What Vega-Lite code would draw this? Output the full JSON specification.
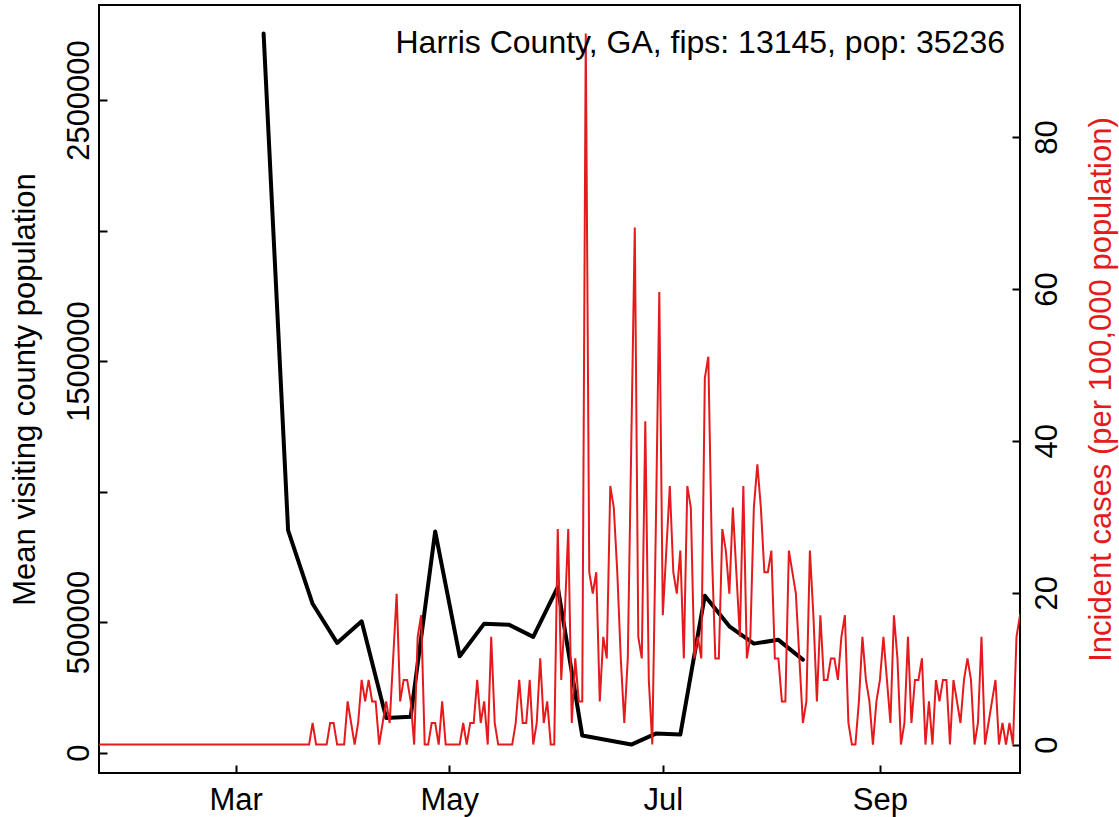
{
  "$schema": "https://vega.github.io/schema/vega-lite/v6.json",
  "width": 921,
  "height": 768,
  "autosize": "none",
  "padding": {"left": 99, "top": 5, "right": 99, "bottom": 44},
  "background": "white",
  "title": {
    "text": "Harris County, GA, fips: 13145, pop: 35236",
    "anchor": "end", "frame": "group", "orient": "top",
    "offset": -80, "baseline": "alphabetic", "dx": -15,
    "fontSize": 32, "fontWeight": "normal", "font": "Liberation Sans", "color": "black"
  },
  "datasets": {
    "visits": [
      {"date": "2020-03-09", "visitors": 2755000},
      {"date": "2020-03-16", "visitors": 851000},
      {"date": "2020-03-23", "visitors": 570000},
      {"date": "2020-03-30", "visitors": 420000},
      {"date": "2020-04-06", "visitors": 502700},
      {"date": "2020-04-13", "visitors": 132800},
      {"date": "2020-04-20", "visitors": 136700},
      {"date": "2020-04-27", "visitors": 847000},
      {"date": "2020-05-04", "visitors": 368700},
      {"date": "2020-05-11", "visitors": 493900},
      {"date": "2020-05-18", "visitors": 490000},
      {"date": "2020-05-25", "visitors": 443000},
      {"date": "2020-06-01", "visitors": 633600},
      {"date": "2020-06-08", "visitors": 65100},
      {"date": "2020-06-22", "visitors": 30600},
      {"date": "2020-06-29", "visitors": 72700},
      {"date": "2020-07-06", "visitors": 68900},
      {"date": "2020-07-13", "visitors": 601000},
      {"date": "2020-07-20", "visitors": 483500},
      {"date": "2020-07-27", "visitors": 417300},
      {"date": "2020-08-03", "visitors": 431800},
      {"date": "2020-08-10", "visitors": 356000}
    ],
    "cases": [
      {"date": "2020-01-22", "incidence": 0}, {"date": "2020-01-23", "incidence": 0}, {"date": "2020-01-24", "incidence": 0}, {"date": "2020-01-25", "incidence": 0}, {"date": "2020-01-26", "incidence": 0}, {"date": "2020-01-27", "incidence": 0}, {"date": "2020-01-28", "incidence": 0}, {"date": "2020-01-29", "incidence": 0}, {"date": "2020-01-30", "incidence": 0}, {"date": "2020-01-31", "incidence": 0},
      {"date": "2020-02-01", "incidence": 0}, {"date": "2020-02-02", "incidence": 0}, {"date": "2020-02-03", "incidence": 0}, {"date": "2020-02-04", "incidence": 0}, {"date": "2020-02-05", "incidence": 0}, {"date": "2020-02-06", "incidence": 0}, {"date": "2020-02-07", "incidence": 0}, {"date": "2020-02-08", "incidence": 0}, {"date": "2020-02-09", "incidence": 0}, {"date": "2020-02-10", "incidence": 0},
      {"date": "2020-02-11", "incidence": 0}, {"date": "2020-02-12", "incidence": 0}, {"date": "2020-02-13", "incidence": 0}, {"date": "2020-02-14", "incidence": 0}, {"date": "2020-02-15", "incidence": 0}, {"date": "2020-02-16", "incidence": 0}, {"date": "2020-02-17", "incidence": 0}, {"date": "2020-02-18", "incidence": 0}, {"date": "2020-02-19", "incidence": 0}, {"date": "2020-02-20", "incidence": 0},
      {"date": "2020-02-21", "incidence": 0}, {"date": "2020-02-22", "incidence": 0}, {"date": "2020-02-23", "incidence": 0}, {"date": "2020-02-24", "incidence": 0}, {"date": "2020-02-25", "incidence": 0}, {"date": "2020-02-26", "incidence": 0}, {"date": "2020-02-27", "incidence": 0}, {"date": "2020-02-28", "incidence": 0}, {"date": "2020-02-29", "incidence": 0},
      {"date": "2020-03-01", "incidence": 0}, {"date": "2020-03-02", "incidence": 0}, {"date": "2020-03-03", "incidence": 0}, {"date": "2020-03-04", "incidence": 0}, {"date": "2020-03-05", "incidence": 0}, {"date": "2020-03-06", "incidence": 0}, {"date": "2020-03-07", "incidence": 0}, {"date": "2020-03-08", "incidence": 0}, {"date": "2020-03-09", "incidence": 0}, {"date": "2020-03-10", "incidence": 0},
      {"date": "2020-03-11", "incidence": 0}, {"date": "2020-03-12", "incidence": 0}, {"date": "2020-03-13", "incidence": 0}, {"date": "2020-03-14", "incidence": 0}, {"date": "2020-03-15", "incidence": 0}, {"date": "2020-03-16", "incidence": 0}, {"date": "2020-03-17", "incidence": 0}, {"date": "2020-03-18", "incidence": 0}, {"date": "2020-03-19", "incidence": 0}, {"date": "2020-03-20", "incidence": 0},
      {"date": "2020-03-21", "incidence": 0}, {"date": "2020-03-22", "incidence": 0}, {"date": "2020-03-23", "incidence": 2.84}, {"date": "2020-03-24", "incidence": 0}, {"date": "2020-03-25", "incidence": 0}, {"date": "2020-03-26", "incidence": 0}, {"date": "2020-03-27", "incidence": 0}, {"date": "2020-03-28", "incidence": 2.84}, {"date": "2020-03-29", "incidence": 2.84}, {"date": "2020-03-30", "incidence": 0},
      {"date": "2020-03-31", "incidence": 0},
      {"date": "2020-04-01", "incidence": 0}, {"date": "2020-04-02", "incidence": 5.68}, {"date": "2020-04-03", "incidence": 2.84}, {"date": "2020-04-04", "incidence": 0}, {"date": "2020-04-05", "incidence": 2.84}, {"date": "2020-04-06", "incidence": 8.51}, {"date": "2020-04-07", "incidence": 5.68}, {"date": "2020-04-08", "incidence": 8.51}, {"date": "2020-04-09", "incidence": 5.68}, {"date": "2020-04-10", "incidence": 5.68},
      {"date": "2020-04-11", "incidence": 0}, {"date": "2020-04-12", "incidence": 2.84}, {"date": "2020-04-13", "incidence": 5.68}, {"date": "2020-04-14", "incidence": 2.84}, {"date": "2020-04-15", "incidence": 11.35}, {"date": "2020-04-16", "incidence": 19.87}, {"date": "2020-04-17", "incidence": 5.68}, {"date": "2020-04-18", "incidence": 8.51}, {"date": "2020-04-19", "incidence": 8.51}, {"date": "2020-04-20", "incidence": 5.68},
      {"date": "2020-04-21", "incidence": 0}, {"date": "2020-04-22", "incidence": 14.19}, {"date": "2020-04-23", "incidence": 17.03}, {"date": "2020-04-24", "incidence": 0}, {"date": "2020-04-25", "incidence": 0}, {"date": "2020-04-26", "incidence": 2.84}, {"date": "2020-04-27", "incidence": 2.84}, {"date": "2020-04-28", "incidence": 0}, {"date": "2020-04-29", "incidence": 5.68}, {"date": "2020-04-30", "incidence": 0},
      {"date": "2020-05-01", "incidence": 0}, {"date": "2020-05-02", "incidence": 0}, {"date": "2020-05-03", "incidence": 0}, {"date": "2020-05-04", "incidence": 0}, {"date": "2020-05-05", "incidence": 2.84}, {"date": "2020-05-06", "incidence": 0}, {"date": "2020-05-07", "incidence": 2.84}, {"date": "2020-05-08", "incidence": 2.84}, {"date": "2020-05-09", "incidence": 8.51}, {"date": "2020-05-10", "incidence": 2.84},
      {"date": "2020-05-11", "incidence": 5.68}, {"date": "2020-05-12", "incidence": 0}, {"date": "2020-05-13", "incidence": 14.19}, {"date": "2020-05-14", "incidence": 2.84}, {"date": "2020-05-15", "incidence": 0}, {"date": "2020-05-16", "incidence": 0}, {"date": "2020-05-17", "incidence": 0}, {"date": "2020-05-18", "incidence": 0}, {"date": "2020-05-19", "incidence": 0}, {"date": "2020-05-20", "incidence": 2.84},
      {"date": "2020-05-21", "incidence": 8.51}, {"date": "2020-05-22", "incidence": 2.84}, {"date": "2020-05-23", "incidence": 2.84}, {"date": "2020-05-24", "incidence": 8.51}, {"date": "2020-05-25", "incidence": 0}, {"date": "2020-05-26", "incidence": 2.84}, {"date": "2020-05-27", "incidence": 11.35}, {"date": "2020-05-28", "incidence": 2.84}, {"date": "2020-05-29", "incidence": 5.68}, {"date": "2020-05-30", "incidence": 0},
      {"date": "2020-05-31", "incidence": 0},
      {"date": "2020-06-01", "incidence": 28.38}, {"date": "2020-06-02", "incidence": 8.51}, {"date": "2020-06-03", "incidence": 17.03}, {"date": "2020-06-04", "incidence": 28.38}, {"date": "2020-06-05", "incidence": 2.84}, {"date": "2020-06-06", "incidence": 11.35}, {"date": "2020-06-07", "incidence": 5.68}, {"date": "2020-06-08", "incidence": 5.68}, {"date": "2020-06-09", "incidence": 93.65}, {"date": "2020-06-10", "incidence": 22.7},
      {"date": "2020-06-11", "incidence": 19.87}, {"date": "2020-06-12", "incidence": 22.7}, {"date": "2020-06-13", "incidence": 5.68}, {"date": "2020-06-14", "incidence": 14.19}, {"date": "2020-06-15", "incidence": 11.35}, {"date": "2020-06-16", "incidence": 34.06}, {"date": "2020-06-17", "incidence": 31.22}, {"date": "2020-06-18", "incidence": 22.7}, {"date": "2020-06-19", "incidence": 11.35}, {"date": "2020-06-20", "incidence": 2.84},
      {"date": "2020-06-21", "incidence": 11.35}, {"date": "2020-06-22", "incidence": 39.73}, {"date": "2020-06-23", "incidence": 68.11}, {"date": "2020-06-24", "incidence": 14.19}, {"date": "2020-06-25", "incidence": 11.35}, {"date": "2020-06-26", "incidence": 42.57}, {"date": "2020-06-27", "incidence": 8.51}, {"date": "2020-06-28", "incidence": 0}, {"date": "2020-06-29", "incidence": 28.38}, {"date": "2020-06-30", "incidence": 59.6},
      {"date": "2020-07-01", "incidence": 17.03}, {"date": "2020-07-02", "incidence": 25.54}, {"date": "2020-07-03", "incidence": 34.06}, {"date": "2020-07-04", "incidence": 22.7}, {"date": "2020-07-05", "incidence": 19.87}, {"date": "2020-07-06", "incidence": 25.54}, {"date": "2020-07-07", "incidence": 11.35}, {"date": "2020-07-08", "incidence": 34.06}, {"date": "2020-07-09", "incidence": 31.22}, {"date": "2020-07-10", "incidence": 11.35},
      {"date": "2020-07-11", "incidence": 14.19}, {"date": "2020-07-12", "incidence": 11.35}, {"date": "2020-07-13", "incidence": 48.25}, {"date": "2020-07-14", "incidence": 51.08}, {"date": "2020-07-15", "incidence": 25.54}, {"date": "2020-07-16", "incidence": 11.35}, {"date": "2020-07-17", "incidence": 11.35}, {"date": "2020-07-18", "incidence": 28.38}, {"date": "2020-07-19", "incidence": 25.54}, {"date": "2020-07-20", "incidence": 19.87},
      {"date": "2020-07-21", "incidence": 31.22}, {"date": "2020-07-22", "incidence": 22.7}, {"date": "2020-07-23", "incidence": 14.19}, {"date": "2020-07-24", "incidence": 34.06}, {"date": "2020-07-25", "incidence": 11.35}, {"date": "2020-07-26", "incidence": 14.19}, {"date": "2020-07-27", "incidence": 31.22}, {"date": "2020-07-28", "incidence": 36.89}, {"date": "2020-07-29", "incidence": 31.22}, {"date": "2020-07-30", "incidence": 22.7},
      {"date": "2020-07-31", "incidence": 22.7},
      {"date": "2020-08-01", "incidence": 25.54}, {"date": "2020-08-02", "incidence": 11.35}, {"date": "2020-08-03", "incidence": 11.35}, {"date": "2020-08-04", "incidence": 5.68}, {"date": "2020-08-05", "incidence": 5.68}, {"date": "2020-08-06", "incidence": 25.54}, {"date": "2020-08-07", "incidence": 22.7}, {"date": "2020-08-08", "incidence": 19.87}, {"date": "2020-08-09", "incidence": 11.35}, {"date": "2020-08-10", "incidence": 2.84},
      {"date": "2020-08-11", "incidence": 5.68}, {"date": "2020-08-12", "incidence": 25.54}, {"date": "2020-08-13", "incidence": 17.03}, {"date": "2020-08-14", "incidence": 5.68}, {"date": "2020-08-15", "incidence": 17.03}, {"date": "2020-08-16", "incidence": 8.51}, {"date": "2020-08-17", "incidence": 8.51}, {"date": "2020-08-18", "incidence": 11.35}, {"date": "2020-08-19", "incidence": 11.35}, {"date": "2020-08-20", "incidence": 8.51},
      {"date": "2020-08-21", "incidence": 14.19}, {"date": "2020-08-22", "incidence": 17.03}, {"date": "2020-08-23", "incidence": 2.84}, {"date": "2020-08-24", "incidence": 0}, {"date": "2020-08-25", "incidence": 0}, {"date": "2020-08-26", "incidence": 5.68}, {"date": "2020-08-27", "incidence": 14.19}, {"date": "2020-08-28", "incidence": 8.51}, {"date": "2020-08-29", "incidence": 5.68}, {"date": "2020-08-30", "incidence": 0},
      {"date": "2020-08-31", "incidence": 5.68},
      {"date": "2020-09-01", "incidence": 8.51}, {"date": "2020-09-02", "incidence": 14.19}, {"date": "2020-09-03", "incidence": 8.51}, {"date": "2020-09-04", "incidence": 2.84}, {"date": "2020-09-05", "incidence": 17.03}, {"date": "2020-09-06", "incidence": 11.35}, {"date": "2020-09-07", "incidence": 0}, {"date": "2020-09-08", "incidence": 2.84}, {"date": "2020-09-09", "incidence": 14.19}, {"date": "2020-09-10", "incidence": 2.84},
      {"date": "2020-09-11", "incidence": 8.51}, {"date": "2020-09-12", "incidence": 8.51}, {"date": "2020-09-13", "incidence": 11.35}, {"date": "2020-09-14", "incidence": 0}, {"date": "2020-09-15", "incidence": 5.68}, {"date": "2020-09-16", "incidence": 0}, {"date": "2020-09-17", "incidence": 8.51}, {"date": "2020-09-18", "incidence": 5.68}, {"date": "2020-09-19", "incidence": 8.51}, {"date": "2020-09-20", "incidence": 8.51},
      {"date": "2020-09-21", "incidence": 0}, {"date": "2020-09-22", "incidence": 8.51}, {"date": "2020-09-23", "incidence": 5.68}, {"date": "2020-09-24", "incidence": 2.84}, {"date": "2020-09-25", "incidence": 8.51}, {"date": "2020-09-26", "incidence": 11.35}, {"date": "2020-09-27", "incidence": 8.51}, {"date": "2020-09-28", "incidence": 0}, {"date": "2020-09-29", "incidence": 2.84}, {"date": "2020-09-30", "incidence": 14.19},
      {"date": "2020-10-01", "incidence": 0}, {"date": "2020-10-02", "incidence": 2.84}, {"date": "2020-10-03", "incidence": 5.68}, {"date": "2020-10-04", "incidence": 8.51}, {"date": "2020-10-05", "incidence": 0}, {"date": "2020-10-06", "incidence": 2.84}, {"date": "2020-10-07", "incidence": 0}, {"date": "2020-10-08", "incidence": 2.84}, {"date": "2020-10-09", "incidence": 0}, {"date": "2020-10-10", "incidence": 14.19},
      {"date": "2020-10-11", "incidence": 17.03}, {"date": "2020-10-12", "incidence": 17.03}
    ]
  },
  "layer": [
    {
      "data": {"name": "visits"},
      "mark": {"type": "line", "color": "black", "strokeWidth": 4, "clip": true, "strokeJoin": "round", "strokeCap": "round"},
      "encoding": {
        "x": {
          "field": "date", "type": "temporal",
          "scale": {"type": "utc", "domain": [{"year": 2020, "month": 1, "date": 22, "utc": true}, {"year": 2020, "month": 10, "date": 11, "utc": true}]},
          "axis": {
            "title": null,
            "values": [{"year": 2020, "month": 3, "date": 1, "utc": true}, {"year": 2020, "month": 5, "date": 1, "utc": true}, {"year": 2020, "month": 7, "date": 1, "utc": true}, {"year": 2020, "month": 9, "date": 1, "utc": true}],
            "labelExpr": "utcFormat(datum.value, '%b')",
            "labelAngle": 0, "labelAlign": "center", "labelBaseline": "top", "labelPadding": 20, "labelFlush": false, "labelOverlap": false
          }
        },
        "y": {
          "field": "visitors", "type": "quantitative",
          "scale": {"domain": [-78376, 2863976], "nice": false, "zero": false},
          "axis": {
            "title": "Mean visiting county population",
            "values": [0, 500000, 1000000, 1500000, 2000000, 2500000],
            "labelExpr": "datum.value == 1000000 || datum.value == 2000000 ? '' : format(datum.value, 'd')",
            "labelAngle": 270, "labelAlign": "center", "labelBaseline": "alphabetic", "labelPadding": 19, "labelOverlap": false, "labelFlush": false,
            "titleAngle": 270, "titleAlign": "center", "titleBaseline": "alphabetic", "titleX": -65, "titleY": 384
          }
        }
      }
    },
    {
      "data": {"name": "cases"},
      "mark": {"type": "line", "color": "#E41A1C", "strokeWidth": 2, "clip": true},
      "encoding": {
        "x": {"field": "date", "type": "temporal"},
        "y": {
          "field": "incidence", "type": "quantitative",
          "scale": {"domain": [-3.746, 97.4], "nice": false, "zero": false},
          "axis": {
            "orient": "right",
            "title": "Incident cases (per 100,000 population)",
            "values": [0, 20, 40, 60, 80],
            "labelAngle": 270, "labelAlign": "center", "labelBaseline": "top", "labelPadding": 20, "labelOverlap": false, "labelFlush": false,
            "titleColor": "#E41A1C",
            "titleAngle": 270, "titleAlign": "center", "titleBaseline": "alphabetic", "titleX": 90, "titleY": 384
          }
        }
      }
    }
  ],
  "resolve": {"scale": {"y": "independent"}, "axis": {"y": "independent"}},
  "config": {
    "font": "Liberation Sans",
    "view": {"stroke": "black", "strokeWidth": 2},
    "axis": {
      "domain": false, "grid": false,
      "ticks": true, "tickColor": "black", "tickWidth": 2, "tickSize": -8,
      "labelColor": "black", "labelFont": "Liberation Sans", "labelFontSize": 31,
      "titleColor": "black", "titleFont": "Liberation Sans", "titleFontSize": 31, "titleFontWeight": "normal"
    }
  }
}
